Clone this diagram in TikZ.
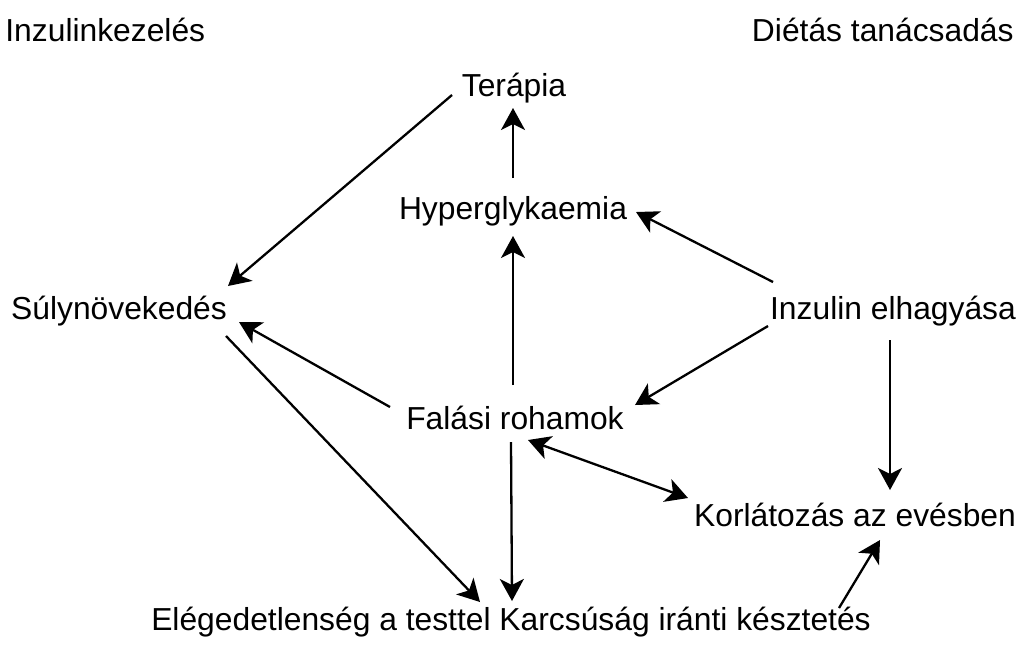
\documentclass[tikz,border=0pt]{standalone}
\usepackage{fontspec}
\setmainfont{Liberation Sans}
\usepackage{tikz}
\usetikzlibrary{arrows.meta}

\begin{document}
\begin{tikzpicture}[x=0.5pt,y=-0.5pt,
    >={Stealth[length=11pt,width=12pt,inset=3pt]},
    texte/.style={inner sep=0pt, font=\fontsize{15.9pt}{19pt}\selectfont},
    fleche/.style={->, line width=1.15pt},
    fleche2/.style={<->, line width=1.15pt}]
    \useasboundingbox (0,0) rectangle (1020,644);

    % Titres
    \node[texte, anchor=base west] (ins) at (5,41) {Inzulinkezelés};
    \node[texte, anchor=base east] (diet) at (1014,41) {Diétás tanácsadás};

    % Nœuds du diagramme
    \node[texte, anchor=base] (ter) at (514,96) {Terápia};
    \node[texte, anchor=base] (hyp) at (513,219) {Hyperglykaemia};
    \node[texte, anchor=base] (sul) at (119,319) {Súlynövekedés};
    \node[texte, anchor=base] (inz) at (893,319) {Inzulin elhagyása};
    \node[texte, anchor=base] (fal) at (515,429) {Falási rohamok};
    \node[texte, anchor=base] (kor) at (855,526) {Korlátozás az evésben};
    \node[texte, anchor=base] (bot) at (511,630) {Elégedetlenség a testtel Karcsúság iránti késztetés};

    % Trajets
    \draw[fleche] ([shift={(-62,-1)}]ter.base) -- ([shift={(109,-33)}]sul.base);
    \draw[fleche] ([shift={(0,-41)}]hyp.base) -- ([shift={(-1,12)}]ter.base);
    \draw[fleche] ([shift={(-2,-44)}]fal.base) -- ([shift={(0,17)}]hyp.base);
    \draw[fleche] ([shift={(-120,-37)}]inz.base) -- ([shift={(123,-7)}]hyp.base);
    \draw[fleche] ([shift={(-125,-22)}]fal.base) -- ([shift={(120,3)}]sul.base);
    \draw[fleche] ([shift={(-125,7)}]inz.base) -- ([shift={(120,-24)}]fal.base);
    \draw[fleche] ([shift={(-3,21)}]inz.base) -- ([shift={(35,-36)}]kor.base);
    \draw[fleche2] ([shift={(13,11)}]fal.base) -- ([shift={(-167,-28)}]kor.base);
    \draw[fleche] ([shift={(107,17)}]sul.base) -- ([shift={(-31,-28)}]bot.base);
    \draw[fleche] ([shift={(-4,13)}]fal.base) -- ([shift={(1,-29)}]bot.base);
    \draw[fleche] ([shift={(328,-22)}]bot.base) -- ([shift={(25,14)}]kor.base);
\end{tikzpicture}
\end{document}
